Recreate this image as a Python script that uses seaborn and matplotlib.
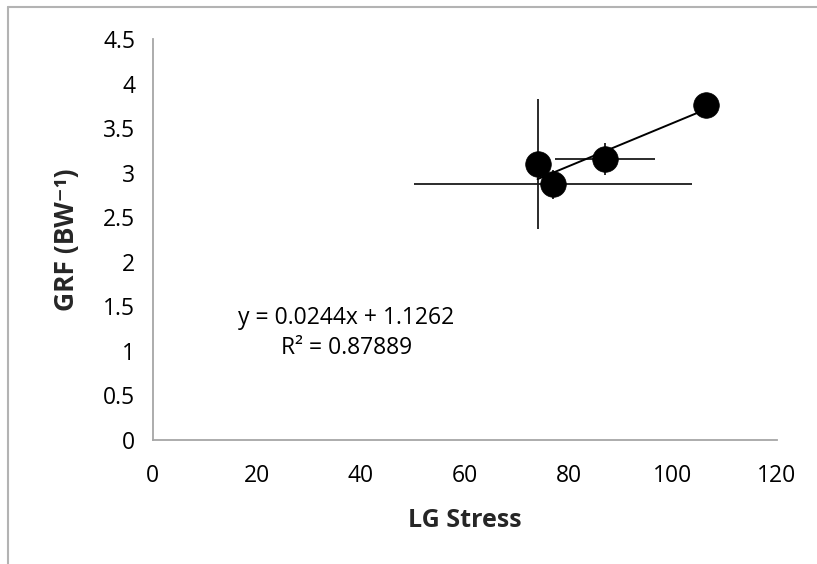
import numpy as np
import pandas as pd
import seaborn as sns
from matplotlib import pyplot as plt
from matplotlib.lines import Line2D

# values
stress = [74.0, 77.0, 87.0, 106.4]
grf = [3.10, 2.87, 3.16, 3.76]
stress_err = [0.0, 26.7, 9.6, 0.0]
grf_err = [0.735, 0.16, 0.18, 0.0]
x_ticks = [0, 20, 40, 60, 80, 100, 120]
y_ticks = [0, 0.5, 1, 1.5, 2, 2.5, 3, 3.5, 4, 4.5]
y_tick_labels = ['0', '0.5', '1', '1.5', '2', '2.5', '3', '3.5', '4', '4.5']
equation = 'y = 0.0244x + 1.1262\nR² = 0.87889'

df = pd.DataFrame({'LG Stress': stress, 'GRF': grf})

sns.set_theme(style='white')
plt.rcParams['font.family'] = ['Open Sans', 'DejaVu Sans']

fig = plt.figure(figsize=(8.17, 5.64), dpi=100)
ax = fig.add_axes([0.1869, 0.2199, 0.7638, 0.7104])

# error bars first, markers on top
ax.errorbar(stress, grf, xerr=stress_err, yerr=grf_err, fmt='none',
            ecolor='#1a1a1a', elinewidth=1.3, capsize=0, zorder=2)
sns.regplot(data=df, x='LG Stress', y='GRF', ax=ax, scatter=False, ci=None,
            truncate=True, line_kws={'color': 'black', 'lw': 1.4, 'zorder': 3})
sns.scatterplot(data=df, x='LG Stress', y='GRF', ax=ax, s=340, color='black',
                edgecolor='black', linewidth=0.5, zorder=4)

ax.set_xlim(0, 120)
ax.set_ylim(0, 4.5)
ax.set_xticks(x_ticks)
ax.set_yticks(y_ticks)
ax.set_yticklabels(y_tick_labels)

gray = '#a6a6a6'
for side in ['top', 'right']:
    ax.spines[side].set_visible(False)
for side in ['left', 'bottom']:
    ax.spines[side].set_color(gray)
    ax.spines[side].set_linewidth(1.3)
ax.tick_params(axis='both', direction='out', length=5.5, width=1.3, color=gray,
               labelsize=16.5, labelcolor='black')
ax.tick_params(axis='x', pad=12)
ax.tick_params(axis='y', pad=7)

ax.set_xlabel('LG Stress', fontsize=18, fontweight='bold', labelpad=14)
ax.set_ylabel('GRF (BW⁻¹)', fontsize=19, fontweight='bold', labelpad=17)

ax.text(37.2, 1.2, equation, ha='center', va='center', fontsize=16.5,
        linespacing=1.3, color='black')

# chart frame from the original spreadsheet export
fig.add_artist(Line2D([0.0098, 0.0098], [0, 0.9876], color='#b3b3b3', lw=1.5))
fig.add_artist(Line2D([0.0098, 1.0], [0.9876, 0.9876], color='#b3b3b3', lw=1.5))

fig.savefig('out.png', dpi=100)
